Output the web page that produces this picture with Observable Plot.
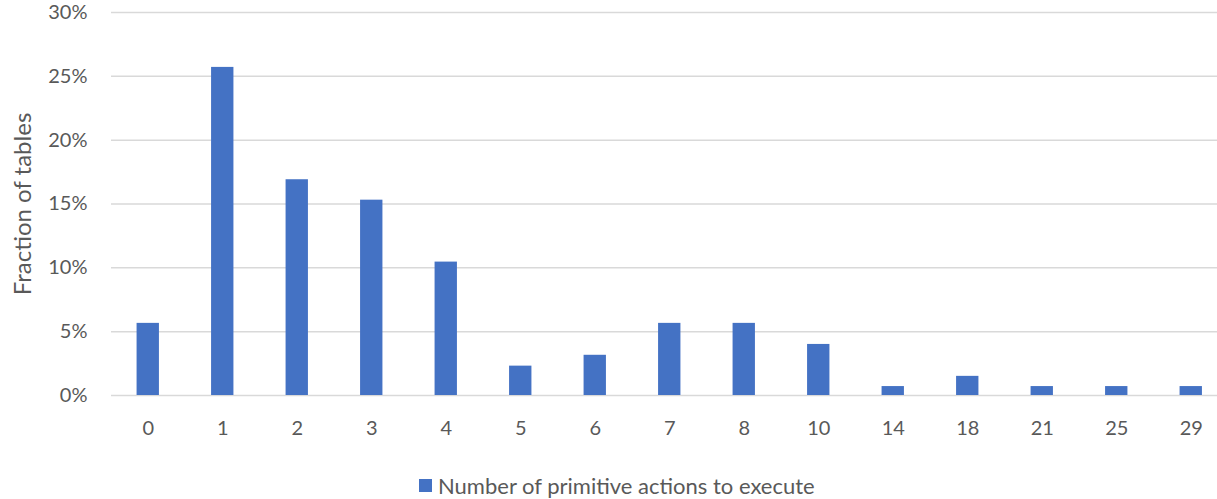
<!DOCTYPE html>
<html>
<head>
<meta charset="utf-8">
<script src="https://cdn.jsdelivr.net/npm/d3@7"></script>
<script src="https://cdn.jsdelivr.net/npm/@observablehq/plot@0.6"></script>
<style>
  html, body { margin: 0; padding: 0; background: #fff; overflow: hidden; }
  #wrap { position: relative; width: 1217px; height: 499px; font-family: Lato, "Open Sans", sans-serif; }
  #legend { position: absolute; left: 419px; top: 470px; height: 30px; display: flex; align-items: center; font-size: 22px; color: #595959; white-space: nowrap; }
  #legend .sw { width: 13px; height: 13px; background: #4472c4; margin-right: 6px; }
</style>
</head>
<body>
<div id="wrap">
  <div id="chart"></div>
  <div id="legend"><span class="sw"></span><span>Number of primitive actions to execute</span></div>
</div>
<script>
const categories = ["0","1","2","3","4","5","6","7","8","10","14","18","21","25","29"];
const fractions = [5.65, 25.7, 16.9, 15.3, 10.45, 2.3, 3.15, 5.65, 5.65, 4.0, 0.7, 1.5, 0.7, 0.7, 0.7];
const yTicks = [0, 5, 10, 15, 20, 25, 30];
const seriesName = "Number of primitive actions to execute";
const yLabel = "Fraction of tables";

const data = categories.map((c, i) => ({category: c, value: fractions[i]}));

const chart = Plot.plot({
  width: 1217,
  height: 460,
  marginLeft: 111,
  marginRight: 0,
  marginTop: 12,
  marginBottom: 65,
  style: {fontFamily: "Lato, 'Open Sans', sans-serif", fontSize: "20px", color: "#595959", background: "#fff"},
  x: {domain: categories, range: [110.5, 1228], round: false, paddingInner: 0.7, paddingOuter: 0.35, label: null},
  y: {domain: [0, 30], label: null},
  marks: [
    Plot.gridY(yTicks, {stroke: "#d9d9d9", strokeOpacity: 1, strokeWidth: 1.5}),
    Plot.barY(data, {x: "category", y: "value", fill: "#4472c4"}),
    Plot.axisX({tickSize: 0, tickPadding: 25, fontSize: 20, label: null}),
    Plot.axisY({ticks: yTicks, tickFormat: d => d + "%", tickSize: 0, tickPadding: 24, fontSize: 20, label: null}),
    Plot.text([yLabel], {frameAnchor: "left", textAnchor: "middle", dx: -88, rotate: -90, fontSize: 24, fill: "#595959"})
  ]
});
document.getElementById("chart").appendChild(chart);
</script>
</body>
</html>
